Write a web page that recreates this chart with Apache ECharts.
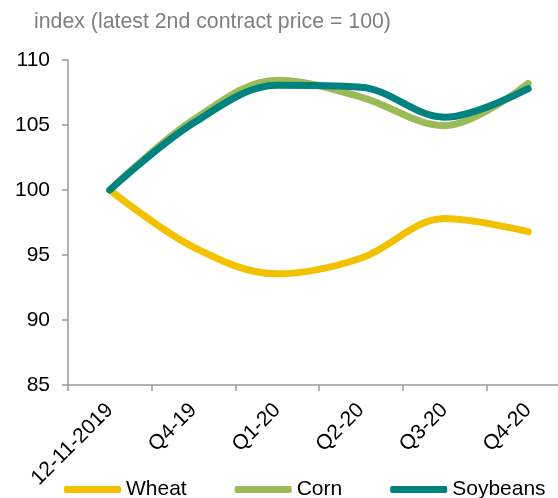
<!DOCTYPE html>
<html>
<head>
<meta charset="utf-8">
<script src="https://cdn.jsdelivr.net/npm/echarts@6/dist/echarts.min.js"></script>
<style>
  html, body { margin: 0; padding: 0; background: #fff; }
  #chart { width: 558px; height: 498px; }
</style>
</head>
<body>
<div id="chart"></div>
<script>
// Index of futures prices along the contract curve
const categories = ['12-11-2019', 'Q4-19', 'Q1-20', 'Q2-20', 'Q3-20', 'Q4-20'];
const wheat    = [100, 95.6, 93.55, 94.75, 97.8, 96.8];
const corn     = [100, 105.4, 108.45, 107.15, 104.95, 108.2];
const soybeans = [100, 105.15, 108.05, 107.9, 105.6, 107.8];
const yTicks   = { min: 85, max: 110, interval: 5 };

const FONT = 'Liberation Sans, Arial, sans-serif';
const AXIS_GREY = '#9a9a9a';

function lineSeries(name, data, color) {
  return {
    name: name,
    type: 'line',
    data: data,
    smooth: 0.35,
    showSymbol: false,
    symbol: 'none',
    lineStyle: { width: 7, color: color, cap: 'round', join: 'round' },
    itemStyle: { color: color },
    emphasis: { disabled: true }
  };
}

const chart = echarts.init(document.getElementById('chart'), null, { renderer: 'canvas' });
chart.setOption({
  animation: false,
  backgroundColor: '#ffffff',
  title: {
    text: 'index (latest 2nd contract price = 100)',
    left: 29,
    top: 7,
    textStyle: { fontFamily: FONT, fontSize: 21.3, fontWeight: 'normal', color: '#7f7f7f' }
  },
  grid: { left: 68, top: 60, width: 502, bottom: 113, outerBoundsMode: 'none', containLabel: false },
  legend: {
    left: 59,
    top: 474,
    itemWidth: 57,
    itemHeight: 7,
    itemGap: 48,
    icon: 'roundRect',
    textStyle: { fontFamily: FONT, fontSize: 21, color: '#000' },
    data: ['Wheat', 'Corn', 'Soybeans']
  },
  xAxis: {
    type: 'category',
    data: categories,
    boundaryGap: true,
    axisLine: { show: true, lineStyle: { color: AXIS_GREY, width: 1.5 } },
    axisTick: { show: true, alignWithLabel: false, length: 6, lineStyle: { color: AXIS_GREY, width: 1.5 } },
    axisLabel: { rotate: 45, margin: 22, interval: 0, fontFamily: FONT, fontSize: 21, color: '#000' },
    splitLine: { show: false }
  },
  yAxis: {
    type: 'value',
    min: yTicks.min,
    max: yTicks.max,
    interval: yTicks.interval,
    axisLine: { show: true, lineStyle: { color: AXIS_GREY, width: 1.5 } },
    axisTick: { show: true, length: 6, lineStyle: { color: AXIS_GREY, width: 1.5 } },
    axisLabel: { margin: 18, fontFamily: FONT, fontSize: 21, color: '#000' },
    splitLine: { show: false }
  },
  series: [
    lineSeries('Wheat', wheat, '#f2c100'),
    lineSeries('Corn', corn, '#9bbb59'),
    lineSeries('Soybeans', soybeans, '#00827f')
  ]
});
</script>
</body>
</html>
